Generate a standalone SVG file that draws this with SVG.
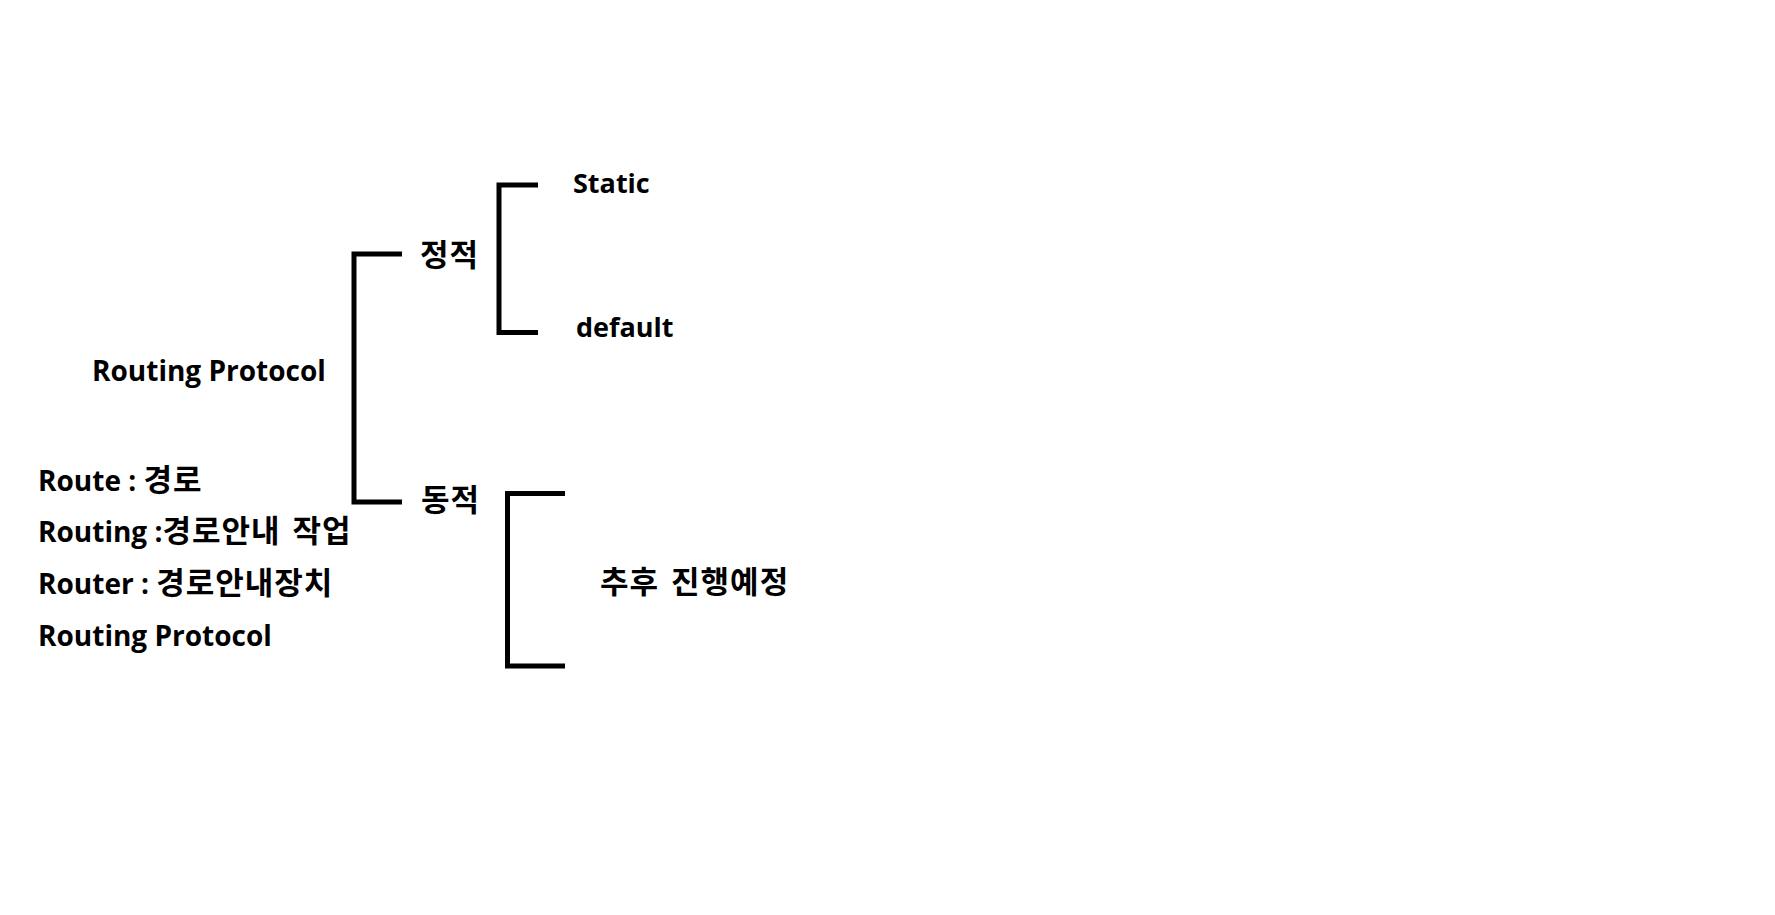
<svg xmlns="http://www.w3.org/2000/svg" width="1775" height="915" viewBox="0 0 1775 915">
<style>
.t{font-family:"Open Sans","Noto Sans CJK KR",sans-serif;font-weight:700;font-size:28px;fill:#000}
.s{font-size:27px}
.k{font-family:"Noto Sans CJK KR","Open Sans",sans-serif;font-weight:700;font-size:31px;fill:#000;letter-spacing:1px;word-spacing:4px}
.br{fill:none;stroke:#000;stroke-width:5;stroke-linejoin:miter;stroke-linecap:butt}
</style>
<rect width="1775" height="915" fill="#fff"/>
<g id="connectors">
<path class="br" d="M402,254 H354 V502 H402"/>
<path class="br" d="M538,185 H499 V332.5 H538"/>
<path class="br" d="M565,493.5 H507.5 V666 H565"/>
</g>
<g id="root"><text class="t" x="92" y="381">Routing Protocol</text></g>
<g id="notes">
<text class="t" x="38" y="491">Route : <tspan class="k">경로</tspan></text>
<text class="t" x="38" y="542">Routing :<tspan class="k">경로안내 작업</tspan></text>
<text class="t" x="38" y="594">Router : <tspan class="k">경로안내장치</tspan></text>
<text class="t" x="38" y="646">Routing Protocol</text>
</g>
<g id="static"><text class="k" x="420" y="266">정적</text></g>
<g id="dynamic"><text class="k" x="421" y="511">동적</text></g>
<g id="static-route"><text class="t s" x="573" y="193">Static</text></g>
<g id="default-route"><text class="t s" x="576" y="337">default</text></g>
<g id="todo"><text class="k" x="600" y="593">추후 진행예정</text></g>
</svg>
